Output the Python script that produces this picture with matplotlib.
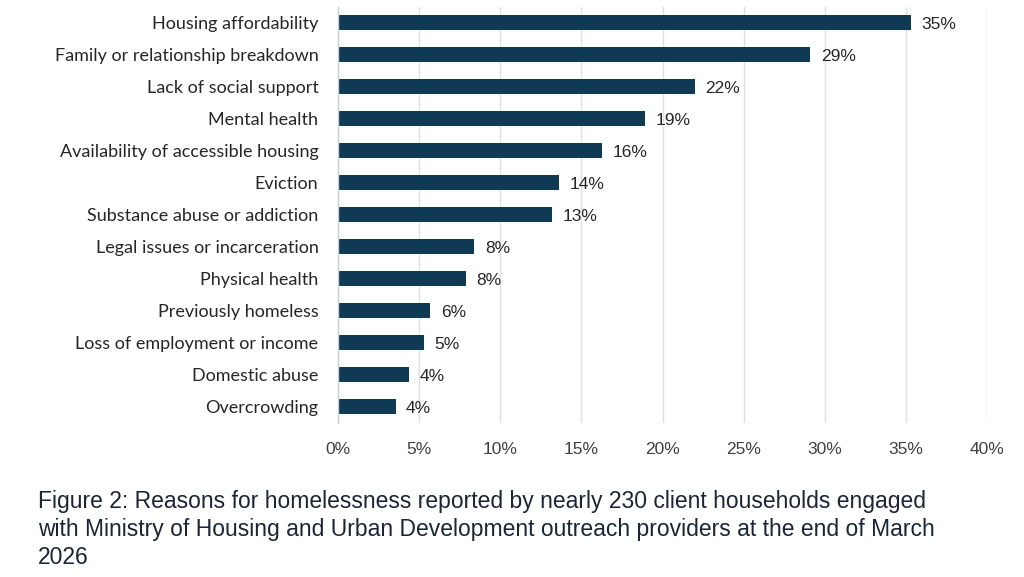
import matplotlib.pyplot as plt
from matplotlib.ticker import FuncFormatter

# reasons, top to bottom as in the chart
reasons = [
    "Housing affordability",
    "Family or relationship breakdown",
    "Lack of social support",
    "Mental health",
    "Availability of accessible housing",
    "Eviction",
    "Substance abuse or addiction",
    "Legal issues or incarceration",
    "Physical health",
    "Previously homeless",
    "Loss of employment or income",
    "Domestic abuse",
    "Overcrowding",
]
# share of households (%)
shares = [35.3, 29.1, 22.0, 18.9, 16.3, 13.6, 13.2, 8.4, 7.9, 5.7, 5.3, 4.4, 3.55]
x_ticks = [0, 5, 10, 15, 20, 25, 30, 35, 40]

caption = ("Figure 2: Reasons for homelessness reported by nearly 230 client households engaged\n"
           "with Ministry of Housing and Urban Development outreach providers at the end of March\n"
           "2026")

bar_color = "#0e3a54"
label_font = ["Lato", "DejaVu Sans"]
num_font = ["Liberation Sans Narrow", "Liberation Sans", "DejaVu Sans"]

fig = plt.figure(figsize=(10.24, 5.77), dpi=100)
ax = fig.add_axes([0.330, 0.267, 0.634, 0.721])

pos = list(range(len(reasons)))
ax.barh(pos, shares, height=0.47, color=bar_color, zorder=3)

for p, v in zip(pos, shares):
    ax.text(v + 0.65, p + 0.05, f"{round(v)}%", va="center", ha="left",
            fontsize=12.5, color="#262626", family=num_font)

ax.set_xlim(0, 40)
ax.set_ylim(len(reasons) - 0.5, -0.5)
ax.set_xticks(x_ticks)
ax.xaxis.set_major_formatter(FuncFormatter(lambda v, _: f"{v:.0f}%"))
ax.set_yticks(pos)
ax.set_yticklabels(reasons, family=label_font, fontsize=13, color="#262626")

for t in ax.get_xticklabels():
    t.set_family(num_font)
    t.set_fontsize(12.5)
    t.set_color("#404040")

ax.tick_params(axis="x", length=0, pad=14)
ax.tick_params(axis="y", length=0, pad=14)
ax.grid(axis="x", color="#e0e0e0", linewidth=1, zorder=0)
for side in ["top", "right", "bottom"]:
    ax.spines[side].set_visible(False)
ax.spines["left"].set_color("#cfcfcf")
ax.spines["left"].set_linewidth(1)
ax.spines["left"].set_zorder(4)

fig.text(0.037, 0.151, caption, ha="left", va="top", fontsize=16.5,
         family=["Liberation Sans", "DejaVu Sans"], color="#1b2535",
         linespacing=1.27)

fig.savefig("out.png", dpi=100)
